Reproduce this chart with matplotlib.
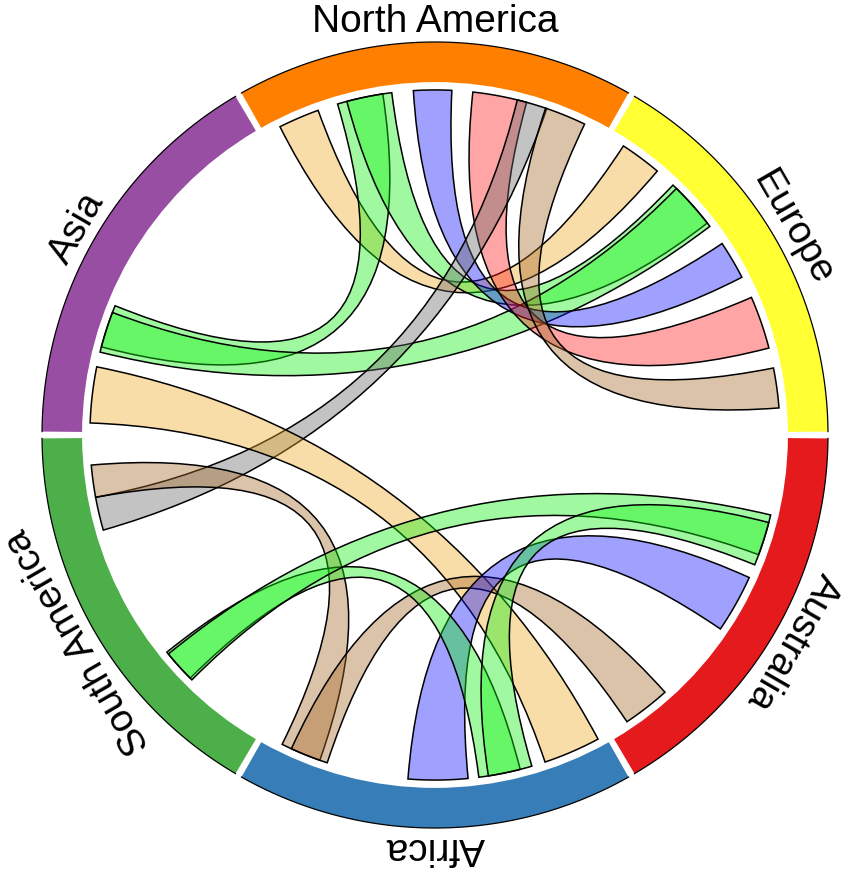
import numpy as np
import matplotlib.pyplot as plt
from matplotlib.path import Path
from matplotlib.patches import PathPatch, Wedge

# sectors, counter-clockwise starting at 3 o'clock
regions = ['Europe', 'North America', 'Asia', 'South America', 'Africa', 'Australia']
region_colors = ['#FFFF33', '#FF7F00', '#984EA3', '#4DAF4A', '#377EB8', '#E41A1C']
region_size = [60, 60, 60, 60, 60, 60]

# ribbon ends (degrees)
flow_from = [(109.8, 116.7), (98.7, 106.4), (97.2, 104.8), (159.2, 166.1),
             (87.2, 93.6), (74.6, 83.7), (71.1, 76.2), (64.3, 71.3),
             (168.6, 178.0), (185.0, 190.4), (-114.6, -108.2), (-94.5, -84.5),
             (219.0, 224.8), (219.4, 225.2), (-81.1, -73.7)]
flow_to = [(49.9, 56.9), (158.0, 165.2), (37.9, 46.4), (37.2, 45.6),
           (27.2, 33.7), (14.6, 23.5), (190.4, 196.0), (4.5, 11.2),
           (-71.4, -61.8), (-116.3, -109.5), (-56.2, -48.2), (-34.2, -24.4),
           (-82.7, -75.7), (-20.3, -13.4), (-22.1, -14.7)]
flow_colors = ['tan', 'green', 'green', 'green', 'blue', 'pink', 'gray', 'brown',
               'tan', 'brown', 'brown', 'blue', 'green', 'green', 'green']

palette = {'tan': '#F2AC2A', 'green': '#12F212', 'blue': '#1212FF',
           'pink': '#FF1E1E', 'gray': '#696969', 'brown': '#A7692A'}

R_OUT = 1.0
R_IN = 0.898
R_RIB = 0.878
R_LAB = 1.05


def arc_pts(a0, a1, r, n=40):
    t = np.radians(np.linspace(a0, a1, n))
    return np.column_stack([r * np.cos(t), r * np.sin(t)])


def ribbon(e1, e2):
    p1 = arc_pts(e1[0], e1[1], R_RIB)
    p2 = arc_pts(e2[0], e2[1], R_RIB)
    verts = list(p1) + [(0, 0), p2[0]] + list(p2[1:]) + [(0, 0), p1[0], p1[0]]
    codes = ([Path.MOVETO] + [Path.LINETO] * (len(p1) - 1) + [Path.CURVE3, Path.CURVE3]
             + [Path.LINETO] * (len(p2) - 1) + [Path.CURVE3, Path.CURVE3, Path.CLOSEPOLY])
    return Path(verts, codes)


fig = plt.figure(figsize=(8.51, 8.71), dpi=100)
ax = fig.add_axes([0, 0, 1, 1])
s = 393.0
ax.set_xlim(-435 / s, 416 / s)
ax.set_ylim(-436 / s, 435 / s)
ax.set_aspect('equal')
ax.axis('off')

# outer ring
start = 0
for name, col, size in zip(regions, region_colors, region_size):
    a0, a1 = start + 0.5, start + size - 0.5
    ax.add_patch(Wedge((0, 0), R_OUT, a0, a1, width=R_OUT - R_IN, facecolor=col, edgecolor='none'))
    edge = arc_pts(a0, a1, R_OUT, 100)
    ax.plot(edge[:, 0], edge[:, 1], color='black', lw=0.9)
    mid = start + size / 2
    t = np.radians(mid)
    ax.text(R_LAB * np.cos(t), R_LAB * np.sin(t), name, rotation=mid - 90,
            rotation_mode='anchor', ha='center', va='center',
            fontsize=28, family='Liberation Sans')
    start += size

# ribbons
for e1, e2, c in zip(flow_from, flow_to, flow_colors):
    fc = plt.matplotlib.colors.to_rgba(palette[c], 0.4)
    ax.add_patch(PathPatch(ribbon(e1, e2), facecolor=fc, edgecolor='black', lw=1.1))

plt.savefig('out.png', dpi=100)
